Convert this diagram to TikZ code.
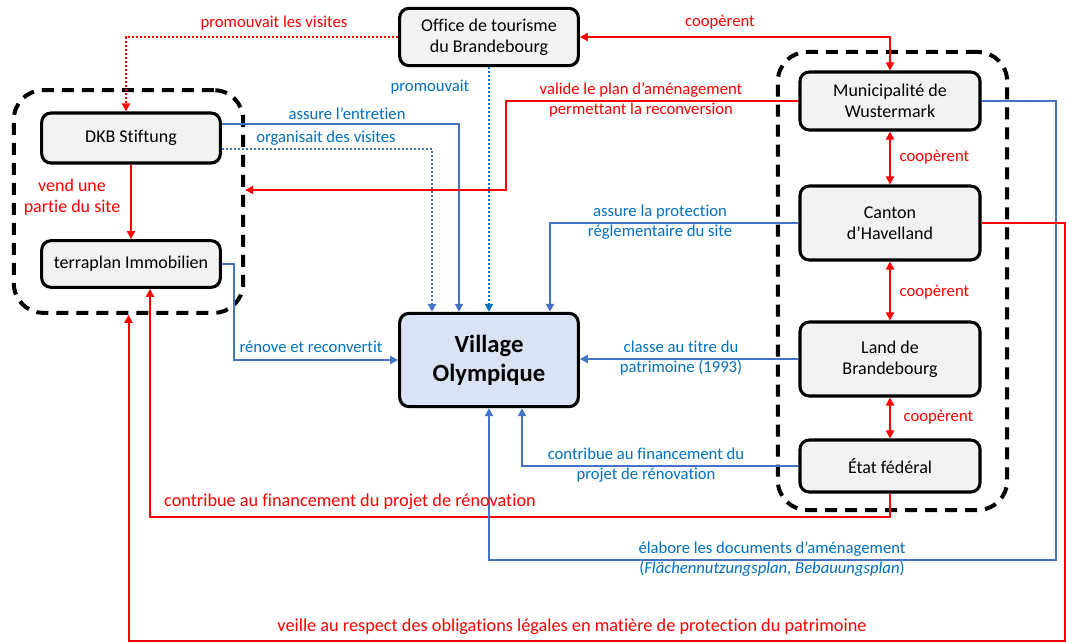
\documentclass[tikz,border=0pt]{standalone}
\usepackage{fontspec}
\setmainfont{Carlito}[Ligatures=NoCommon]
\usepackage{xcolor}
\definecolor{lnBlue}{RGB}{68,114,196}
\definecolor{txBlue}{RGB}{0,112,192}
\definecolor{lnRed}{RGB}{255,0,0}
\definecolor{boxGray}{RGB}{242,242,242}
\definecolor{vilBlue}{RGB}{218,227,243}
\usetikzlibrary{positioning,arrows.meta,calc,shadows}

\begin{document}
\begin{tikzpicture}[
  x=0.75pt, y=-0.75pt,
  box/.style={draw, line width=2.3pt, rounded corners=7pt, fill=boxGray,
              minimum width=134pt, align=center, font=\fontsize{13.5}{16}\selectfont,
              drop shadow={opacity=0.2, shadow xshift=1.2pt, shadow yshift=-1.2pt}},
  grp/.style={draw, line width=3pt, dash pattern=on 9pt off 6pt, rounded corners=22pt},
  lbl/.style={font=\fontsize{12.5}{15.5}\selectfont, align=center, inner sep=1pt},
  biglbl/.style={font=\fontsize{13.7}{16}\selectfont},
  rlbl/.style={lbl, text=lnRed},
  blbl/.style={lbl, text=txBlue},
  tip/.style={-{Triangle[length=6pt,width=6pt]}},
  rarr/.style={draw=lnRed, line width=1.5pt, tip},
  rboth/.style={draw=lnRed, line width=1.5pt, {Triangle[length=6pt,width=6pt]}-{Triangle[length=6pt,width=6pt]}},
  barr/.style={draw=lnBlue, line width=1.5pt, tip},
  dotline/.style={dash pattern=on 1.5pt off 1.5pt}
]
\path[fill=white] (0,0) rectangle (1066,642);

%% ── groups ───────────────────────────────────────────────────
\node[grp, minimum width=172pt, minimum height=167pt]   (leftgrp)  at (128.5,201.5) {};
\node[grp, minimum width=172pt, minimum height=343.5pt] (rightgrp) at (892.5,281) {};

%% ── actors ───────────────────────────────────────────────────
\node[box, minimum height=43pt]   (office) at (489,37)  {Office de tourisme\\du Brandebourg};
\node[box, minimum height=37.5pt] (dkb)    at (131,138) {DKB Stiftung};
\node[box, minimum height=35pt]   (terra)  at (131,264) {terraplan Immobilien};
\node[box, fill=vilBlue, minimum height=70pt,
      font=\fontsize{18.5}{22}\selectfont\bfseries] (vil) at (489,360) {Village\\Olympique};
\node[box, minimum width=135pt, minimum height=43.5pt] (muni)   at (890,101) {Municipalité de\\Wustermark};
\node[box, minimum width=135pt, minimum height=55.5pt] (canton) at (890,223) {Canton\\d’Havelland};
\node[box, minimum width=135pt, minimum height=55.5pt] (land)   at (890,359) {Land de\\Brandebourg};
\node[box, minimum width=135pt, minimum height=39pt]   (etat)   at (890,466) {État fédéral};

%% ── bends ────────────────────────────────────────────────────
\coordinate (vbend)   at (506,190);
\coordinate (mcorner) at (1056,560);
\coordinate (ccorner) at (1065,641);

%% ── connectors ───────────────────────────────────────────────
\draw[rarr, dotline] (office.west) -| ($(dkb.north)+(-5,0)$);
\draw[rboth] (muni.north) |- (office.east);
\draw[barr, dotline, draw=txBlue] (office.south) -- (vil.north);
\draw[barr] ($(dkb.east)+(0,-14)$) -| ($(vil.north)+(-30,0)$);
\draw[barr, dotline] ($(dkb.east)+(0,11)$) -| ($(vil.north)+(-57,0)$);
\draw[rarr] (muni.west) -| (vbend) -- (vbend -| leftgrp.east);
\draw[rarr] (dkb) -- (terra);
\draw[barr] (terra.east) -- ++(12,0) |- (vil.west);
\draw[barr] (canton.west) -| ($(vil.north)+(61,0)$);
\draw[barr] (land.west) -- (vil.east |- land.west);
\draw[barr] (etat.west) -| ($(vil.south)+(33,0)$);
\draw[rarr] (etat.south) -- ++(0,23) -| ($(terra.south)+(19,0)$);
\draw[barr] (muni.east) -| (mcorner) -| (vil.south);
\draw[rarr] (canton.east) -| (ccorner) -| (leftgrp.south);
\draw[rboth] (muni) -- (canton);
\draw[rboth] (canton) -- (land);
\draw[rboth] (land) -- (etat);

%% ── labels ───────────────────────────────────────────────────
\node[rlbl] (lpromv)  at (274,23)  {promouvait les visites};
\node[rlbl] (lcoop)   at (720,22)  {coopèrent};
\node[blbl] (lpromo)  at (430,87)  {promouvait};
\node[blbl] (lentre)  at (347,114) {assure l’entretien};
\node[blbl] (lorga)   at (326,138) {organisait des visites};
\node[rlbl] (lvalide) at (641,100) {valide le plan d’aménagement\\permettant la reconversion};
\node[rlbl, font=\fontsize{13.5}{16}\selectfont] (lvend) at (72,197) {vend une\\partie du site};
\node[blbl] (lrenov)  at (311,347) {rénove et reconvertit};
\node[blbl] (lprot)   at (660,222) {assure la protection\\réglementaire du site};
\node[blbl] (lclasse) at (681,358) {classe au titre du\\patrimoine (1993)};
\node[blbl] (lfin)    at (646,465) {contribue au financement du\\projet de rénovation};
\node[rlbl, biglbl] (lfinr)   at (350,502) {contribue au financement du projet de rénovation};
\node[blbl] (lelab)   at (772,559) {élabore les documents d’aménagement\\(\textit{Flächennutzungsplan, Bebauungsplan})};
\node[rlbl, biglbl] (lveille) at (572,627) {veille au respect des obligations légales en matière de protection du patrimoine};
\node[rlbl, anchor=west] (lcoopa) at (898,157) {coopèrent};
\node[rlbl, anchor=west] (lcoopb) at (898,292) {coopèrent};
\node[rlbl, anchor=west] (lcoopc) at (902,417) {coopèrent};
\end{tikzpicture}
\end{document}
